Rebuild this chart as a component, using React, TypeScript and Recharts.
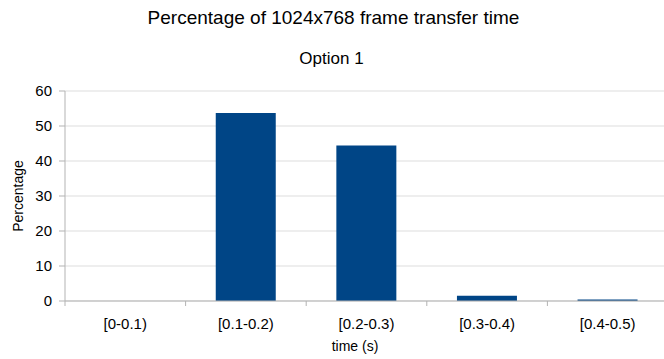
import React from "react";
import { BarChart, Bar, XAxis, YAxis, CartesianGrid } from "recharts";

const CATEGORIES = ["[0-0.1)", "[0.1-0.2)", "[0.2-0.3)", "[0.3-0.4)", "[0.4-0.5)"];
const PERCENTAGES = [0, 53.7, 44.4, 1.5, 0.4];
const Y_TICKS = [0, 10, 20, 30, 40, 50, 60];

const data = CATEGORIES.map((range, i) => ({ range, pct: PERCENTAGES[i] }));

const FONT = "'Liberation Sans', Arial, sans-serif";
const AXIS_GRAY = "#b3b3b3";
const GRID_GRAY = "#dddddd";

// category ticks: label in the middle, small marks on the band edges
const RangeTick = (props: any) => {
  const { x, y, payload, index, visibleTicksCount } = props;
  const half = payload && payload.offset ? payload.offset : 60;
  const last = index === visibleTicksCount - 1;
  return (
    <g>
      <line x1={x - half} x2={x - half} y1={y} y2={y + 5} stroke={AXIS_GRAY} />
      {last && <line x1={x + half} x2={x + half} y1={y} y2={y + 5} stroke={AXIS_GRAY} />}
      <text x={x} y={y + 28} textAnchor="middle" fontSize={15} fill="#000" fontFamily={FONT}>
        {payload.value}
      </text>
    </g>
  );
};

export default function App() {
  return (
    <div
      style={{
        position: "absolute",
        left: 0,
        top: 0,
        width: 664,
        height: 359,
        overflow: "hidden",
        background: "#fff",
        fontFamily: FONT,
      }}
    >
      <BarChart
        width={672}
        height={359}
        data={data}
        margin={{ top: 91, right: 4, bottom: 28, left: 8 }}
        barCategoryGap="25%"
      >
        <CartesianGrid vertical={false} stroke={GRID_GRAY} />
        <XAxis
          dataKey="range"
          height={30}
          stroke={AXIS_GRAY}
          tickLine={false}
          tickSize={0}
          tickMargin={0}
          interval={0}
          tick={<RangeTick />}
        />
        <YAxis
          width={57}
          domain={[0, 60]}
          ticks={Y_TICKS}
          stroke={AXIS_GRAY}
          tickSize={6}
          tickMargin={7}
          tick={{ fontSize: 15, fill: "#000", fontFamily: FONT }}
        />
        <Bar dataKey="pct" fill="#004586" isAnimationActive={false} />
      </BarChart>

      <div style={{ position: "absolute", left: 0, top: 7, width: 667, textAlign: "center", fontSize: 19, lineHeight: "22px", color: "#000" }}>
        Percentage of 1024x768 frame transfer time
      </div>
      <div style={{ position: "absolute", left: 0, top: 49, width: 663, textAlign: "center", fontSize: 17, lineHeight: "20px", color: "#000" }}>
        Option 1
      </div>
      <div
        style={{
          position: "absolute",
          left: 18 - 50,
          top: 196 - 9,
          width: 100,
          textAlign: "center",
          fontSize: 14,
          lineHeight: "18px",
          color: "#000",
          transform: "rotate(-90deg)",
        }}
      >
        Percentage
      </div>
      <div style={{ position: "absolute", left: 305, top: 337, width: 100, textAlign: "center", fontSize: 14, lineHeight: "18px", color: "#000" }}>
        time (s)
      </div>
    </div>
  );
}
